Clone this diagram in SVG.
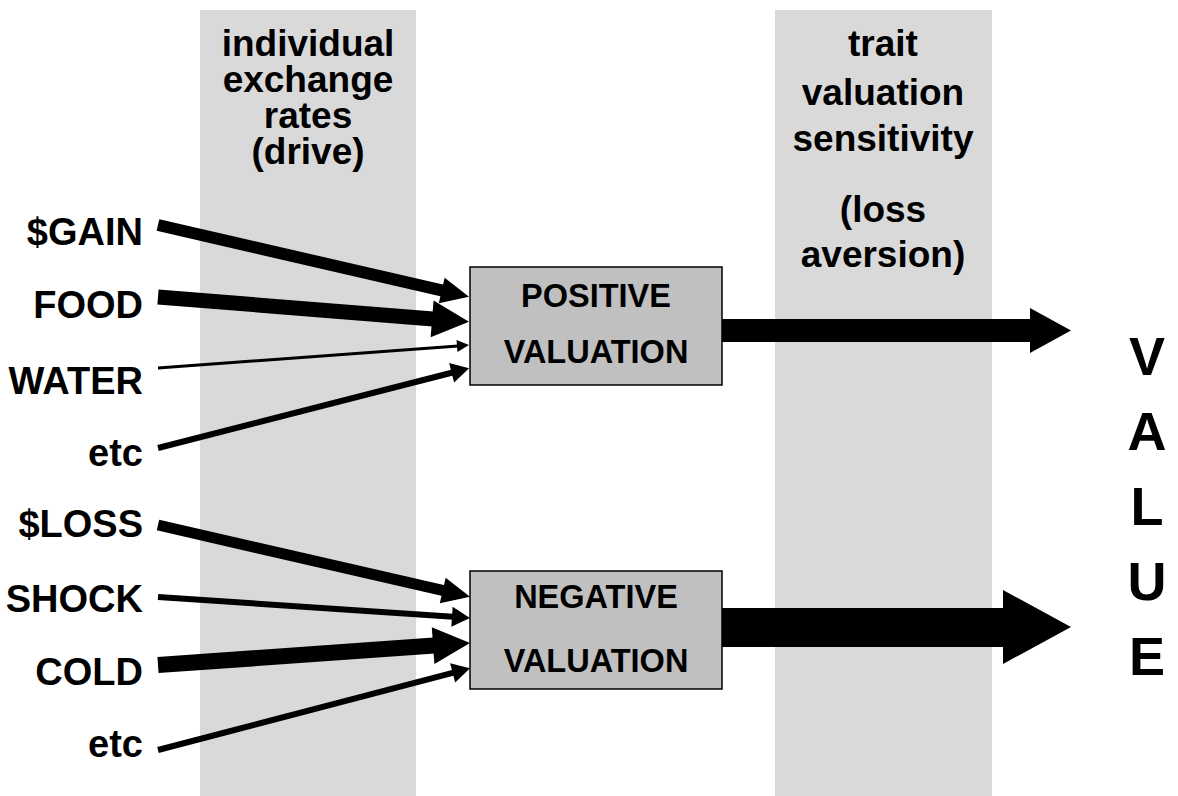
<svg xmlns="http://www.w3.org/2000/svg" width="1178" height="796" viewBox="0 0 1178 796">
<style>
text{font-family:"Liberation Sans",Arial,Helvetica,sans-serif;font-weight:bold;fill:#000}
.col{fill:#d9d9d9}
.box{fill:#c0c0c0;stroke:#000;stroke-width:1.5}
.lbl{font-size:38px;text-anchor:end}
.hdr{font-size:37px;text-anchor:middle}
.bt{font-size:32.5px;text-anchor:middle}
.val{font-size:54px;text-anchor:middle}
.in{fill:none;stroke:#000;stroke-linecap:butt}
</style>
<defs>
<marker id="mL" markerUnits="userSpaceOnUse" orient="auto" refX="1" refY="0" markerWidth="1" markerHeight="1" overflow="visible"><path d="M0,-18.5 L37,0 L0,18.5 z" fill="#000"/></marker>
<marker id="mM" markerUnits="userSpaceOnUse" orient="auto" refX="1" refY="0" markerWidth="1" markerHeight="1" overflow="visible"><path d="M0,-13 L28,0 L0,13 z" fill="#000"/></marker>
<marker id="mS" markerUnits="userSpaceOnUse" orient="auto" refX="1" refY="0" markerWidth="1" markerHeight="1" overflow="visible"><path d="M0,-10 L18,0 L0,10 z" fill="#000"/></marker>
<marker id="mT" markerUnits="userSpaceOnUse" orient="auto" refX="1" refY="0" markerWidth="1" markerHeight="1" overflow="visible"><path d="M0,-6 L12,0 L0,6 z" fill="#000"/></marker>
</defs>
<rect width="1178" height="796" fill="#fff"/>
<g id="col-drive">
<rect class="col" x="200" y="10" width="216" height="786"/>
<text class="hdr" x="308" y="56">individual</text>
<text class="hdr" x="308" y="92">exchange</text>
<text class="hdr" x="308" y="128">rates</text>
<text class="hdr" x="308" y="164">(drive)</text>
</g>
<g id="col-trait">
<rect class="col" x="775" y="10" width="217" height="786"/>
<text class="hdr" x="883" y="56">trait</text>
<text class="hdr" x="883" y="105">valuation</text>
<text class="hdr" x="883" y="151">sensitivity</text>
<text class="hdr" x="883" y="222">(loss</text>
<text class="hdr" x="883" y="267">aversion)</text>
</g>
<g id="labels">
<text class="lbl" x="143" y="245">$GAIN</text>
<text class="lbl" x="143" y="318">FOOD</text>
<text class="lbl" x="143" y="394">WATER</text>
<text class="lbl" x="143" y="466">etc</text>
<text class="lbl" x="143" y="537">$LOSS</text>
<text class="lbl" x="143" y="612">SHOCK</text>
<text class="lbl" x="143" y="685">COLD</text>
<text class="lbl" x="143" y="757">etc</text>
</g>
<g id="connectors">
<path class="in" d="M158,225 L442.7,290.7" stroke-width="12" marker-end="url(#mM)"/>
<path class="in" d="M158,297 L433.1,319" stroke-width="15" marker-end="url(#mL)"/>
<path class="in" d="M158,368 L458,345.9" stroke-width="3" marker-end="url(#mT)"/>
<path class="in" d="M158,448 L452.6,372.5" stroke-width="6" marker-end="url(#mS)"/>
<path class="in" d="M158,525 L443.7,590.7" stroke-width="11" marker-end="url(#mM)"/>
<path class="in" d="M158,597 L453,616.8" stroke-width="6" marker-end="url(#mS)"/>
<path class="in" d="M158,665 L434.1,645.6" stroke-width="16" marker-end="url(#mL)"/>
<path class="in" d="M158,750 L453.6,672.6" stroke-width="6" marker-end="url(#mS)"/>
<polygon points="722,319 1030,319 1030,308 1071,330.5 1030,353 1030,342 722,342" fill="#000"/>
<polygon points="722,608 1003,608 1003,590 1071,627 1003,664 1003,647 722,647" fill="#000"/>
</g>
<g id="positive">
<rect class="box" x="470" y="267" width="252" height="118"/>
<text class="bt" x="596" y="307">POSITIVE</text>
<text class="bt" x="596" y="363">VALUATION</text>
</g>
<g id="negative">
<rect class="box" x="470" y="571" width="252" height="118"/>
<text class="bt" x="596" y="608">NEGATIVE</text>
<text class="bt" x="596" y="672">VALUATION</text>
</g>
<g id="value">
<text class="val" x="1147" y="375">V</text>
<text class="val" x="1147" y="450">A</text>
<text class="val" x="1147" y="525">L</text>
<text class="val" x="1147" y="600">U</text>
<text class="val" x="1147" y="675">E</text>
</g>
</svg>
